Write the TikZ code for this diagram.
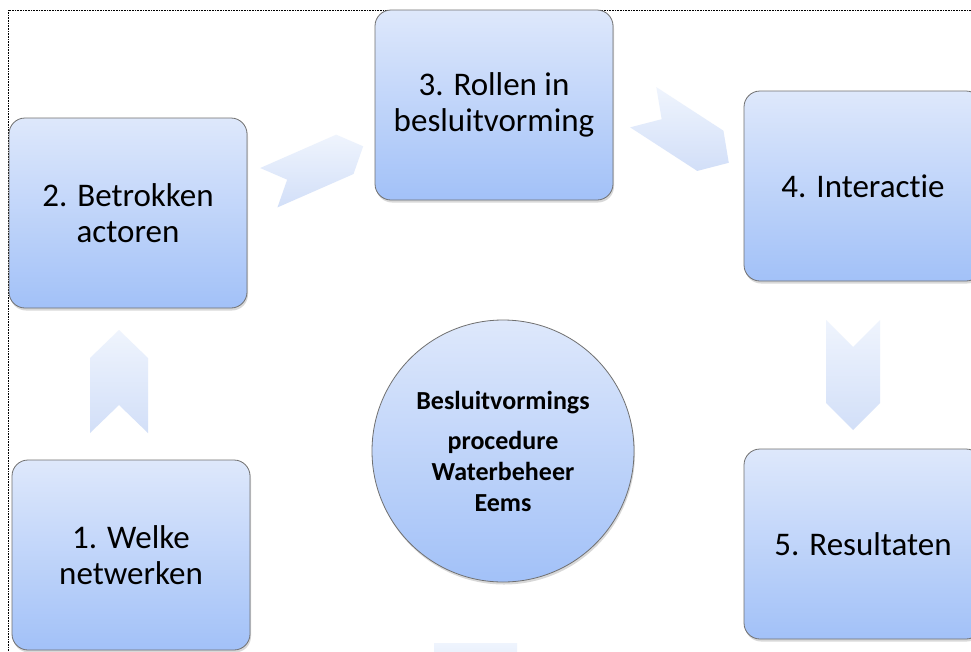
\documentclass[tikz,border=0pt]{standalone}
\usepackage{fontspec}
\setmainfont{Carlito}[Ligatures=NoCommon]
\usetikzlibrary{shadows}
\definecolor{boxtop}{RGB}{222,232,251}
\definecolor{boxbot}{RGB}{162,193,248}
\definecolor{chevtop}{RGB}{239,244,253}
\definecolor{chevbot}{RGB}{210,223,248}
\definecolor{boxline}{RGB}{112,112,112}
\tikzset{
  stap/.style={draw=boxline, line width=0.8pt, rounded corners=16pt,
    top color=boxtop, bottom color=boxbot,
    minimum width=238pt, minimum height=190pt, inner sep=0pt,
    align=center, font=\fontsize{33}{36}\selectfont,
    drop shadow={opacity=0.3, shadow xshift=1pt, shadow yshift=-2.5pt}},
  kern/.style={circle, draw=boxline, line width=0.8pt,
    top color=boxtop, bottom color=boxbot,
    minimum size=262pt, inner sep=0pt,
    align=center, font=\fontsize{26}{31}\selectfont\bfseries,
    drop shadow={opacity=0.3, shadow xshift=1pt, shadow yshift=-2.5pt}},
  pijlvlak/.style={top color=chevtop, bottom color=chevbot, draw=none}
}
% #1 centre, #2 angle, #3 length, #4 width, #5 notch depth
\newcommand{\pijl}[5]{%
  \shade[pijlvlak, shift={#1}, rotate=#2]
    ({-#3/2},{-#4/2}) -- ({#3/2-#5},{-#4/2}) -- ({#3/2},0)
    -- ({#3/2-#5},{#4/2}) -- ({-#3/2},{#4/2}) -- ({-#3/2+#5},0) -- cycle;}

\begin{document}
\begin{tikzpicture}[x=1pt,y=-1pt]
\clip (0,0) rectangle (971,651);
\fill[white] (0,0) rectangle (971,651);
\draw[line width=0.8pt, dash pattern=on 0.8pt off 0.8pt] (8,651) -- (8,10) -- (971,10);

\node[stap] (welke) at (131,555) {1. Welke\\netwerken};
\node[stap] (actoren) at (128,213) {2. Betrokken\\actoren};
\node[stap] (rollen) at (494,105) {3. Rollen in\\besluitvorming};
\node[stap] (interactie) at (863,186) {4. Interactie};
\node[stap] (resultaten) at (863,544) {5. Resultaten};

\node[kern] (proc) at (503,451) {Besluitvormings\\[9pt]procedure\\Waterbeheer\\Eems};

% pijlen tussen de stappen
\pijl{(119,381.5)}{90}{103}{58}{28}
\pijl{(316,167)}{23.7}{103}{43}{20}
\pijl{(686,135)}{-33}{102}{48}{22}
\pijl{(853,375)}{-90}{110}{54}{27}
\shade[pijlvlak] (434,643) rectangle (517,700);
\end{tikzpicture}
\end{document}
